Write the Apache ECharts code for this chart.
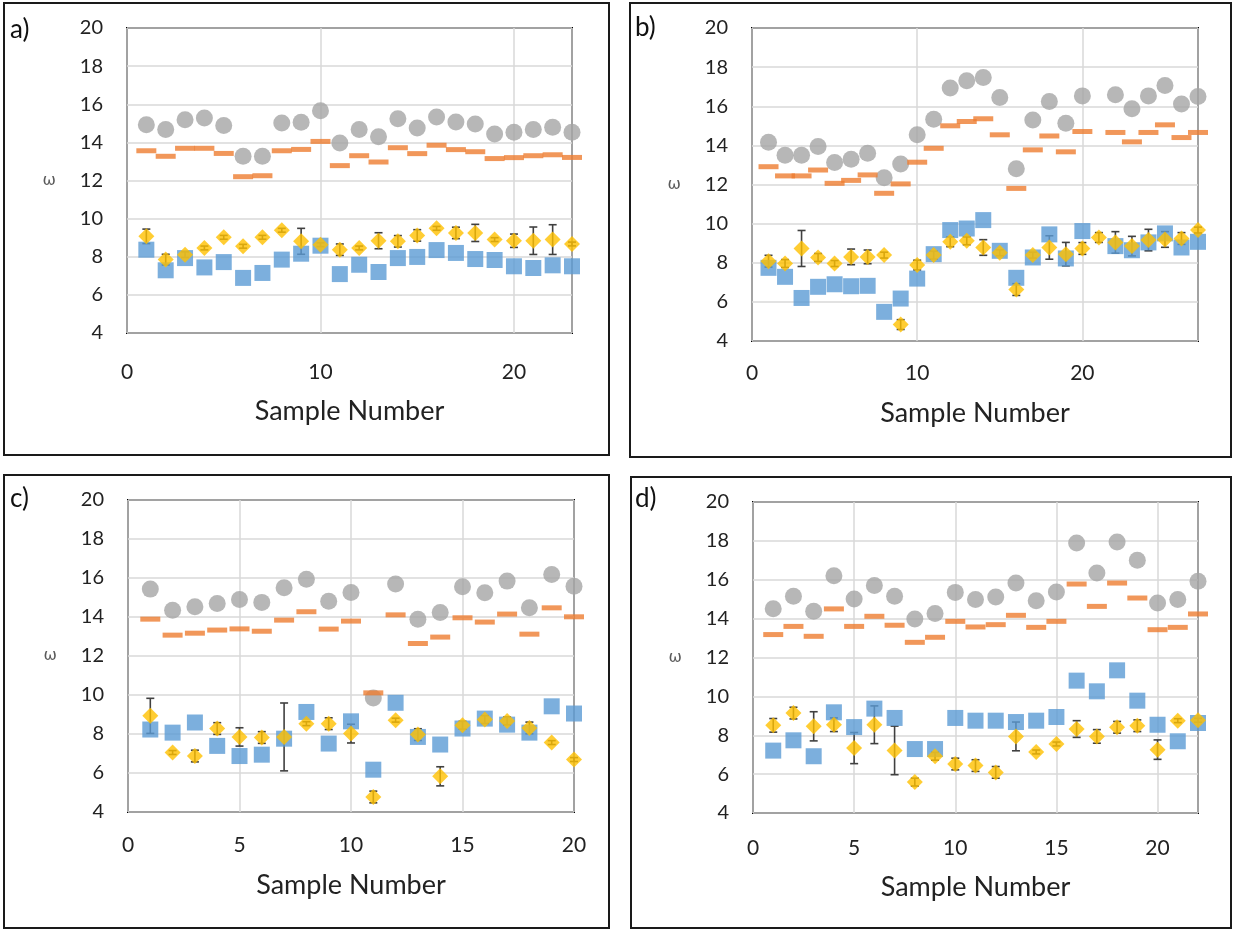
<!DOCTYPE html>
<html>
<head>
<meta charset="utf-8">
<script src="https://cdn.jsdelivr.net/npm/echarts@6/dist/echarts.min.js"></script>
<style>
  html, body { margin: 0; padding: 0; background: #ffffff; }
  #chart { width: 1233px; height: 930px; }
</style>
</head>
<body>
<div id="chart"></div>
<script>
// ---- values per panel (ω against sample number) ----
const panelLabels = ['a)', 'b)', 'c)', 'd)'];
const xAxisTitle = 'Sample Number';
const yAxisTitle = 'ω';
const xMaxima = [23, 27, 20, 22];
const xSteps = [10, 10, 5, 5];

const samplesA = [1,2,3,4,5,6,7,8,9,10,11,12,13,14,15,16,17,18,19,20,21,22,23];
const aGray   = [14.93,14.67,15.19,15.28,14.88,13.27,13.27,15.02,15.05,15.66,13.97,14.68,14.30,15.24,14.75,15.33,15.07,14.96,14.44,14.53,14.67,14.79,14.53];
const aOrange = [13.56,13.27,13.69,13.69,13.42,12.20,12.25,13.56,13.63,14.05,12.78,13.30,12.97,13.72,13.41,13.85,13.62,13.51,13.15,13.20,13.30,13.35,13.21];
const aBlue   = [8.37,7.29,7.93,7.44,7.72,6.89,7.15,7.85,8.16,8.58,7.09,7.58,7.20,7.93,7.99,8.35,8.20,7.88,7.83,7.50,7.41,7.55,7.50];
const aYellow = [9.07,7.85,8.11,8.46,9.02,8.55,9.02,9.39,8.81,8.63,8.37,8.46,8.84,8.81,9.12,9.49,9.25,9.25,8.90,8.84,8.84,8.90,8.67];
const aYellowErr = [0.38,0.28,0.15,0.10,0.10,0.10,0.10,0.10,0.68,0.10,0.30,0.10,0.42,0.30,0.30,0.10,0.30,0.45,0.10,0.35,0.72,0.78,0.10];

const samplesB = [1,2,3,4,5,6,7,8,9,10,11,12,13,14,15,16,17,18,19,20,21,22,23,24,25,26,27];
const bGray   = [14.16,13.49,13.49,13.94,13.12,13.29,13.60,12.35,13.05,14.54,15.34,16.93,17.30,17.47,16.45,12.81,15.30,16.24,15.13,16.53,null,16.59,15.87,16.53,17.06,16.12,16.50];
const bOrange = [12.91,12.44,12.44,12.74,12.06,12.21,12.49,11.55,12.03,13.14,13.85,15.00,15.22,15.36,14.54,11.80,13.77,14.48,13.67,14.71,null,14.66,14.18,14.66,15.05,14.40,14.66];
const bBlue   = [7.74,7.28,6.20,6.77,6.90,6.80,6.82,5.49,6.17,7.19,8.44,9.67,9.75,10.18,8.61,7.23,8.27,9.45,8.22,9.62,null,8.85,8.64,9.04,9.50,8.78,9.07];
const bYellow = [8.08,7.96,8.73,8.27,7.96,8.30,8.30,8.39,4.84,7.88,8.39,9.07,9.12,8.78,8.51,6.63,8.39,8.78,8.44,8.73,9.29,9.04,8.85,9.16,9.19,9.24,9.67];
const bYellowErr = [0.30,0.20,0.92,0.20,0.15,0.40,0.35,0.15,0.25,0.25,0.20,0.25,0.20,0.40,0.15,0.30,0.15,0.60,0.60,0.30,0.25,0.55,0.50,0.55,0.40,0.30,0.15];

const samplesC = [1,2,3,4,5,6,7,8,9,10,11,12,13,14,15,16,17,18,19,20];
const cGray   = [15.43,14.35,14.52,14.69,14.90,14.75,15.50,15.94,14.81,15.26,9.85,15.69,13.89,14.23,15.55,15.24,15.84,14.47,16.18,15.58];
const cOrange = [13.89,13.07,13.17,13.33,13.39,13.27,13.84,14.27,13.38,13.79,10.11,14.11,12.64,12.97,13.96,13.74,14.15,13.12,14.47,14.01];
const cBlue   = [8.23,8.07,8.59,7.39,6.87,6.94,7.76,9.13,7.51,8.65,6.17,9.60,7.85,7.46,8.28,8.79,8.48,8.07,9.42,9.05];
const cYellow = [8.93,7.05,6.87,8.28,7.85,7.82,7.85,8.53,8.53,8.02,4.77,8.71,7.97,5.83,8.45,8.74,8.67,8.31,7.56,6.69];
const cYellowErr = [0.90,0.10,0.30,0.30,0.47,0.30,1.74,0.10,0.30,0.48,0.30,0.10,0.30,0.49,0.20,0.20,0.20,0.30,0.10,0.10];

const samplesD = [1,2,3,4,5,6,7,8,9,10,11,12,13,14,15,16,17,18,19,20,21,22];
const dGray   = [14.51,15.15,14.38,16.21,15.01,15.71,15.15,13.98,14.26,15.35,14.98,15.11,15.83,14.92,15.37,17.89,16.35,17.94,17.00,14.80,14.98,15.92];
const dOrange = [13.18,13.60,13.09,14.50,13.60,14.12,13.66,12.78,13.04,13.86,13.57,13.69,14.17,13.55,13.86,15.78,14.63,15.83,15.06,13.43,13.55,14.24];
const dBlue   = [7.21,7.74,6.92,9.18,8.42,9.37,8.89,7.29,7.29,8.89,8.75,8.75,8.68,8.75,8.94,10.81,10.26,11.34,9.78,8.54,7.69,8.63];
const dYellow = [8.51,9.14,8.46,8.54,7.34,8.54,7.22,5.59,6.92,6.52,6.44,6.09,7.94,7.14,7.55,8.32,7.94,8.41,8.49,7.26,8.75,8.77];
const dYellowErr = [0.35,0.30,0.75,0.35,0.80,0.97,1.25,0.20,0.20,0.30,0.30,0.30,0.74,0.10,0.10,0.43,0.35,0.30,0.30,0.50,0.10,0.10];

// ---- layout ----
const FONT = 'Lato, "Open Sans", sans-serif';
const gridBoxes = [
  { left: 127, top: 28,  width: 445, height: 305 },
  { left: 752, top: 28,  width: 446, height: 313 },
  { left: 128, top: 500, width: 446, height: 312 },
  { left: 753, top: 502, width: 445, height: 311 }
];
const frames = [
  { x: 4,   y: 3,   width: 605, height: 452 },
  { x: 630, y: 3,   width: 601, height: 454 },
  { x: 4,   y: 475, width: 605, height: 453 },
  { x: 631, y: 477, width: 600, height: 451 }
];
const labelPos = [[10, 30], [635, 28], [10, 499], [635, 499]];
const xLabelMargin = [29, 22, 23, 25];
const xNameGap = [65, 59, 60, 61];

const panels = [
  { x: samplesA, gray: aGray, orange: aOrange, blue: aBlue, yellow: aYellow, err: aYellowErr },
  { x: samplesB, gray: bGray, orange: bOrange, blue: bBlue, yellow: bYellow, err: bYellowErr },
  { x: samplesC, gray: cGray, orange: cOrange, blue: cBlue, yellow: cYellow, err: cYellowErr },
  { x: samplesD, gray: dGray, orange: dOrange, blue: dBlue, yellow: dYellow, err: dYellowErr }
];

function pairs(xs, ys) {
  const out = [];
  xs.forEach((x, i) => { if (ys[i] != null) out.push([x, ys[i]]); });
  return out;
}
function triples(xs, ys, es) {
  return xs.map((x, i) => [x, ys[i], es[i]]);
}

// vertical error bar with caps, drawn through the axis scales
function renderErrorBar(params, api) {
  const x = api.value(0), y = api.value(1), e = api.value(2);
  const hi = api.coord([x, y + e]);
  const lo = api.coord([x, y - e]);
  const cap = 4;
  const style = { stroke: '#404040', lineWidth: 1.6 };
  return {
    type: 'group',
    children: [
      { type: 'line', shape: { x1: hi[0], y1: hi[1], x2: lo[0], y2: lo[1] }, style },
      { type: 'line', shape: { x1: hi[0] - cap, y1: hi[1], x2: hi[0] + cap, y2: hi[1] }, style },
      { type: 'line', shape: { x1: lo[0] - cap, y1: lo[1], x2: lo[0] + cap, y2: lo[1] }, style }
    ]
  };
}

const grid = [], xAxis = [], yAxis = [], series = [], graphic = [];

panels.forEach((p, i) => {
  grid.push(Object.assign({ show: true, borderColor: '#000', borderWidth: 2, backgroundColor: 'transparent' }, gridBoxes[i]));
  const step = xSteps[i];
  xAxis.push({
    gridIndex: i, type: 'value', min: 0, max: xMaxima[i], interval: step,
    name: xAxisTitle, nameLocation: 'middle', nameGap: xNameGap[i],
    nameTextStyle: { fontFamily: FONT, fontSize: 27, color: '#222' },
    axisLine: { show: false }, axisTick: { show: false },
    axisLabel: {
      margin: xLabelMargin[i], fontFamily: FONT, fontSize: 21, color: '#222',
      formatter: v => (v % step === 0 ? String(v) : '')
    },
    splitLine: { show: true, lineStyle: { color: '#d9d9d9', width: 1.5 } }
  });
  yAxis.push({
    gridIndex: i, type: 'value', min: 4, max: 20, interval: 2,
    name: yAxisTitle, nameLocation: 'middle', nameRotate: 0, nameGap: 71,
    nameTextStyle: { fontFamily: '"DejaVu Sans", sans-serif', fontSize: 16, color: '#5a5a5a' },
    axisLine: { show: false }, axisTick: { show: false },
    axisLabel: { margin: 24, fontFamily: FONT, fontSize: 20, color: '#222' },
    splitLine: { show: true, lineStyle: { color: '#d9d9d9', width: 1.5 } }
  });

  const common = { type: 'scatter', xAxisIndex: i, yAxisIndex: i, clip: false, silent: true };
  series.push(Object.assign({}, common, {
    name: 'circle', symbol: 'circle', symbolSize: 17, z: 2,
    itemStyle: { color: '#a5a5a5' }, data: pairs(p.x, p.gray)
  }));
  series.push(Object.assign({}, common, {
    name: 'dash', symbol: 'rect', symbolSize: [20, 5], z: 3,
    itemStyle: { color: '#ed7d31' }, data: pairs(p.x, p.orange)
  }));
  series.push({
    type: 'custom', name: 'error', xAxisIndex: i, yAxisIndex: i, clip: false, silent: true, z: 4,
    renderItem: renderErrorBar, data: triples(p.x, p.yellow, p.err)
  });
  series.push(Object.assign({}, common, {
    name: 'square', symbol: 'rect', symbolSize: 16, z: 5,
    itemStyle: { color: '#5b9bd5' }, data: pairs(p.x, p.blue)
  }));
  series.push(Object.assign({}, common, {
    name: 'diamond', symbol: 'diamond', symbolSize: 16, z: 6,
    itemStyle: { color: '#ffc000' }, data: pairs(p.x, p.yellow)
  }));

  const f = frames[i];
  graphic.push({
    type: 'rect', shape: { x: f.x, y: f.y, width: f.width, height: f.height },
    style: { fill: 'none', stroke: '#1a1a1a', lineWidth: 2 }, silent: true
  });
  graphic.push({
    type: 'text', x: labelPos[i][0], y: labelPos[i][1],
    style: { text: panelLabels[i], fontFamily: FONT, fontSize: 26, fill: '#111', textVerticalAlign: 'middle' },
    silent: true
  });
});

const chart = echarts.init(document.getElementById('chart'), null, { renderer: 'canvas' });
chart.setOption({
  animation: false,
  backgroundColor: '#ffffff',
  textStyle: { fontFamily: FONT },
  grid, xAxis, yAxis, series, graphic
});
</script>
</body>
</html>
